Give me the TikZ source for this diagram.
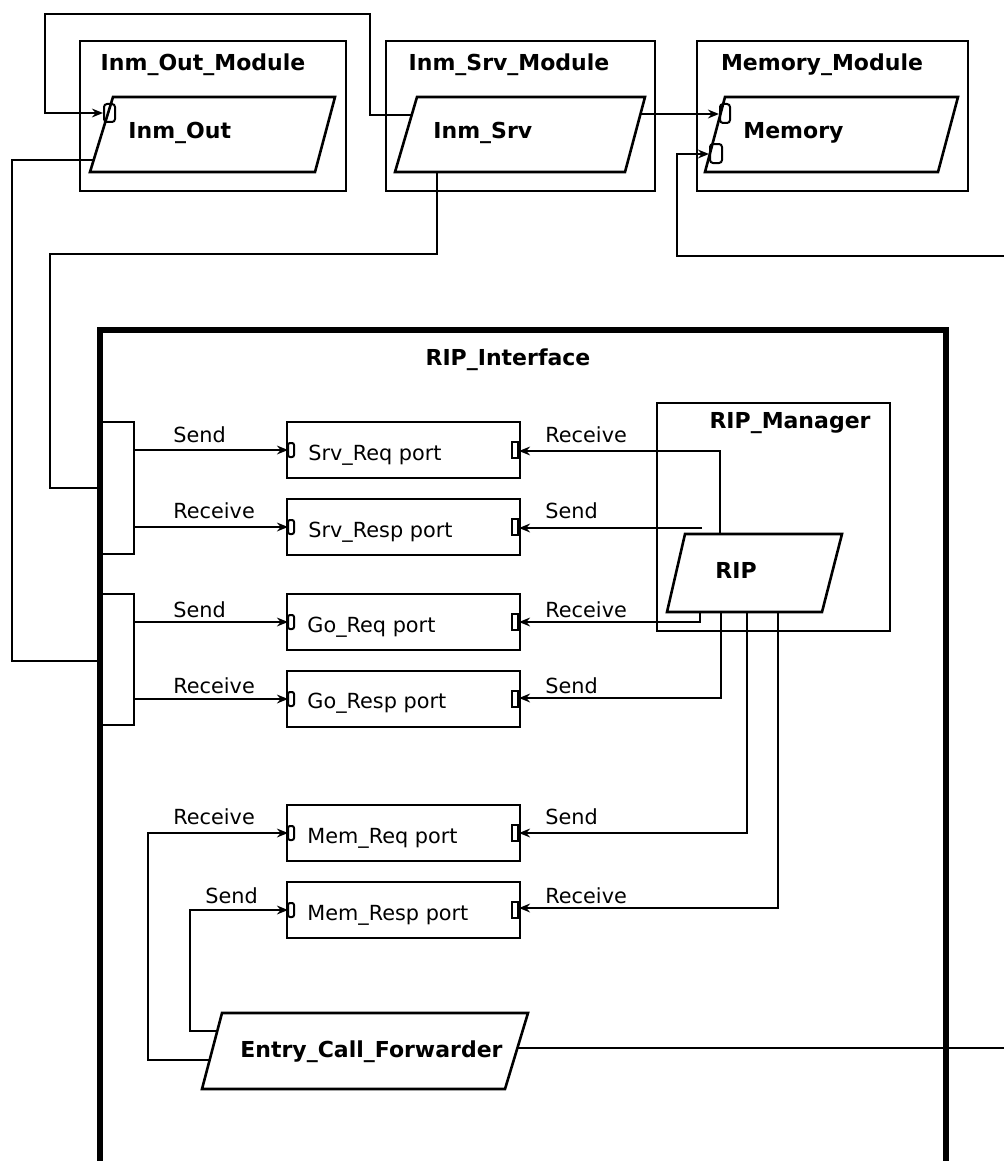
\documentclass[tikz,border=0pt]{standalone}
\usepackage{fontspec}
\setmainfont{DejaVu Sans}
\usetikzlibrary{arrows.meta}
\begin{document}
\begin{tikzpicture}[x=0.5pt,y=-0.5pt,
  wire/.style={line width=0.95pt},
  arr/.style={wire,-{Stealth[length=5.5pt,width=4.4pt]}},
  frame/.style={line width=1.3pt},
  thickframe/.style={line width=2.6pt},
  ttl/.style={font=\bfseries\fontsize{11}{13}\selectfont,inner sep=0pt,anchor=base},
  ttlw/.style={font=\bfseries\fontsize{11}{13}\selectfont,inner sep=0pt,anchor=base west},
  lbl/.style={font=\fontsize{10.4}{12}\selectfont,inner sep=0pt,anchor=base west},
  pbox/.style={draw,line width=1.2pt,minimum width=116.5pt,minimum height=28pt,inner sep=0pt},
  pmark/.style={line width=1pt}
]
\useasboundingbox (0,0) rectangle (1004,1161);

% ---------- top modules ----------
\draw[frame] (80,41) rectangle (346,191);
\node[ttl] (tout) at (203,71) {Inm\_Out\_Module};
\draw[frame] (386,41) rectangle (655,191);
\node[ttl] (tsrv) at (509,71) {Inm\_Srv\_Module};
\draw[frame] (697,41) rectangle (968,191);
\node[ttl] (tmem) at (822,71) {Memory\_Module};

% parallelograms
\draw[frame] (113,97) -- (335,97) -- (315,172) -- (90,172) -- cycle;
\node[ttlw] (inmout) at (128,139) {Inm\_Out};
\draw[frame] (417,97) -- (645,97) -- (625,172) -- (395,172) -- cycle;
\node[ttlw] (inmsrv) at (433,139) {Inm\_Srv};
\draw[frame] (725,97) -- (958,97) -- (938,172) -- (705,172) -- cycle;
\node[ttlw] (memory) at (743,139) {Memory};

% port markers on processes
\draw[pmark,rounded corners=1.5pt] (104,104) rectangle (115,122);
\draw[pmark,rounded corners=1.5pt] (720,104) rectangle (730,123);
\draw[pmark,rounded corners=1.5pt] (710,144) rectangle (722,163);

\coordinate (outin) at (103,113);
\coordinate (srvL) at (412,115);
\coordinate (srvR) at (640,114);
\coordinate (memin1) at (719,114);
\coordinate (memin2) at (709,154);
\coordinate (outL) at (94,160);
\coordinate (srvB) at (437,172);
\coordinate (rightA) at (1004,256);

\draw[arr] (srvL) -- (370,115) -- (370,14) -- (45,14) -- (45,113) -- (outin);
\draw[arr] (srvR) -- (memin1);
\draw[arr] (rightA) -- (677,256) -- (677,154) -- (memin2);

% ---------- RIP_Interface ----------
\draw[thickframe] (100,1165) -- (100,330) -- (946,330) -- (946,1165);
\node[ttl] (tint) at (508,365) {RIP\_Interface};

% brackets
\draw[frame] (100,422) rectangle (134,554);
\draw[frame] (100,594) rectangle (134,725);
\coordinate (intL1) at (100,488);
\coordinate (intL2) at (100,661);

\draw[wire] (outL) -- (12,160) -- (12,661) -- (intL2);
\draw[wire] (srvB) -- (437,254) -- (50,254) -- (50,488) -- (intL1);

% port boxes
\node[pbox] (p1) at (403.5,450) {};
\node[pbox] (p2) at (403.5,527) {};
\node[pbox] (p3) at (403.5,622) {};
\node[pbox] (p4) at (403.5,699) {};
\node[pbox] (p5) at (403.5,833) {};
\node[pbox] (p6) at (403.5,910) {};

\node[lbl] (n1) at (308,460) {Srv\_Req port};
\node[lbl] (n2) at (308,537) {Srv\_Resp port};
\node[lbl] (n3) at (307,632) {Go\_Req port};
\node[lbl] (n4) at (307,708) {Go\_Resp port};
\node[lbl] (n5) at (307,843) {Mem\_Req port};
\node[lbl] (n6) at (307,920) {Mem\_Resp port};

% port markers
\foreach \yy in {450,527,622,699,833,910}{
  \draw[pmark,rounded corners=1pt] (288,\yy-7) rectangle (294,\yy+7);
  \draw[pmark] (512,\yy-8) rectangle (518,\yy+8);
}

% left connectors
\draw[arr] (134,450) -- (288,450);
\draw[arr] (134,527) -- (288,527);
\draw[arr] (134,622) -- (288,622);
\draw[arr] (134,699) -- (288,699);
\node[lbl] (l1) at (173,442) {Send};
\node[lbl] (l2) at (173,518) {Receive};
\node[lbl] (l3) at (173,617) {Send};
\node[lbl] (l4) at (173,693) {Receive};

% ---------- RIP_Manager ----------
\draw[frame] (657,403) rectangle (890,631);
\node[ttl] (tman) at (790,428) {RIP\_Manager};
\draw[frame] (685,534) -- (842,534) -- (822,612) -- (667,612) -- cycle;
\node[ttlw] (rip) at (715,578) {RIP};

\draw[arr] (720,534) -- (720,451) -- (519,451);
\draw[arr] (702,528) -- (519,528);
\draw[arr] (700,612) -- (700,622) -- (519,622);
\draw[arr] (721,612) -- (721,698) -- (519,698);
\draw[arr] (747,612) -- (747,833) -- (519,833);
\draw[arr] (778,612) -- (778,908) -- (519,908);
\node[lbl] (r1) at (545,442) {Receive};
\node[lbl] (r2) at (545,518) {Send};
\node[lbl] (r3) at (545,617) {Receive};
\node[lbl] (r4) at (545,693) {Send};
\node[lbl] (r5) at (545,824) {Send};
\node[lbl] (r6) at (545,903) {Receive};

% ---------- Entry_Call_Forwarder ----------
\draw[frame] (222,1013) -- (528,1013) -- (505,1089) -- (202,1089) -- cycle;
\node[ttlw] (ecf) at (240,1057) {Entry\_Call\_Forwarder};
\coordinate (ecfA) at (210,1060);
\coordinate (ecfB) at (217,1031);
\coordinate (ecfR) at (517,1048);

\draw[arr] (ecfA) -- (148,1060) -- (148,833) -- (288,833);
\draw[arr] (ecfB) -- (190,1031) -- (190,910) -- (288,910);
\node[lbl] (l5) at (173,824) {Receive};
\node[lbl] (l6) at (205,903) {Send};
\draw[wire] (ecfR) -- (1004,1048);

\end{tikzpicture}
\end{document}
